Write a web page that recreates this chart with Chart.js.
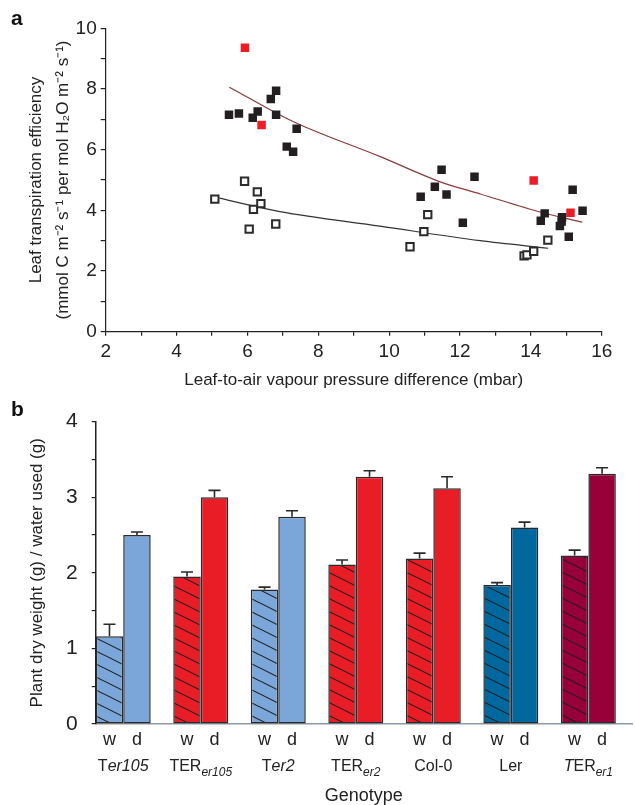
<!DOCTYPE html>
<html><head><meta charset="utf-8">
<script src="https://cdn.jsdelivr.net/npm/chart.js@4.4.1/dist/chart.umd.min.js"></script>
<style>
html,body{margin:0;padding:0;background:#fff;}
#wrap{position:relative;width:635px;height:805px;overflow:hidden;}
#ca{position:absolute;left:0;top:0;}
#cb{position:absolute;left:0;top:395px;}
.lab{position:absolute;font:bold 21px "Liberation Sans",Arial,sans-serif;color:#111;line-height:1;}
</style></head><body>
<div id="wrap">
<canvas id="ca" width="635" height="395"></canvas>
<canvas id="cb" width="635" height="410"></canvas>
<div class="lab" style="left:11px;top:7px">a</div>
<div class="lab" style="left:11px;top:398px">b</div>
</div>
<script>
// ---------- Panel a data ----------
const filledX = [5.48,5.76,6.15,6.29,6.66,6.81,6.81,7.11,7.29,7.39,10.89,11.29,11.48,11.62,12.08,12.41,14.28,14.39,14.82,14.87,14.88,15.07,15.18,15.46];
const filledY = [7.15,7.19,7.05,7.26,7.67,7.94,7.15,6.10,5.93,6.69,4.45,4.78,5.34,4.52,3.59,5.11,3.66,3.90,3.48,3.63,3.77,3.13,4.68,3.99];
const redX = [5.93,6.40,14.08,15.12];
const redY = [9.36,6.81,4.98,3.92];
const openX = [5.08,5.92,6.05,6.17,6.28,6.38,6.80,10.59,10.98,11.09,13.81,13.89,14.08,14.48];
const openY = [4.37,4.96,3.38,4.03,4.61,4.22,3.55,2.80,3.30,3.86,2.50,2.53,2.65,3.02];
const upperFitX = [5.49,7.30,9.75,11.44,12.57,14.34,15.45];
const upperFitY = [8.06,6.92,5.77,4.94,4.54,3.92,3.61];
const lowerFitX = [5.21,6.92,9.74,12.57,14.49];
const lowerFitY = [4.40,3.96,3.48,3.00,2.75];
const xTicksA = [2,4,6,8,10,12,14,16];
const yTicksA = [0,2,4,6,8,10];

// ---------- Panel b data ----------
const genotypes = ['T<i>er105</i>','TER<sub>er105</sub>','T<i>er2</i>','TER<sub>er2</sub>','Col-0','Ler','<i>T</i>ER<sub>er1</sub>'];
const wetValues = [1.16,1.95,1.78,2.11,2.19,1.84,2.23];
const wetErrors = [0.16,0.06,0.03,0.06,0.07,0.03,0.07];
const dryValues = [2.50,3.00,2.74,3.27,3.12,2.60,3.31];
const dryErrors = [0.04,0.09,0.08,0.08,0.15,0.07,0.08];
const genotypeColors = ['#7ba6d9','#e91d26','#7ba6d9','#e91d26','#e91d26','#00679f','#970039'];
const yTicksB = [0,1,2,3,4];

const FONT = '"Liberation Sans", Arial, Helvetica, sans-serif';
Chart.defaults.font.family = FONT;
Chart.defaults.color = '#222';

const pts = (xs, ys) => xs.map((x, i) => ({x, y: ys[i]}));

// ---------- Chart a ----------
new Chart(document.getElementById('ca'), {
  type: 'scatter',
  data: { datasets: [
    {label:'Fit (filled)', data: pts(upperFitX, upperFitY), showLine:true, borderColor:'#8a3b3b', borderWidth:1.2, pointRadius:0, cubicInterpolationMode:'monotone', order:5},
    {label:'Fit (open)', data: pts(lowerFitX, lowerFitY), showLine:true, borderColor:'#333', borderWidth:1.2, pointRadius:0, cubicInterpolationMode:'monotone', order:5},
    {label:'Filled', data: pts(filledX, filledY), pointStyle:'rect', pointRadius:6, backgroundColor:'#231f20', borderWidth:0, order:1},
    {label:'Red', data: pts(redX, redY), pointStyle:'rect', pointRadius:6, backgroundColor:'#ee1c25', borderWidth:0, order:1},
    {label:'Open', data: pts(openX, openY), pointStyle:'rect', pointRadius:5.2, backgroundColor:'#fff', borderColor:'#2b2b2b', borderWidth:2, order:1}
  ]},
  options: {
    responsive:false, animation:false,
    layout:{padding:{top:28.3, right:33.3, left:0, bottom:0}},
    plugins:{legend:{display:false}, tooltip:{enabled:false}},
    scales:{
      x:{type:'linear', min:2, max:16,
        afterFit:s=>{s.height = 395-331.7;},
        ticks:{stepSize:1, autoSkip:false, padding:5, font:{size:19}, color:'#222', maxRotation:0,
          callback:v=> xTicksA.includes(v) ? String(v) : ''},
        grid:{drawOnChartArea:false, tickLength:4, color:'#222', lineWidth:1.2},
        border:{color:'#222', width:1.2},
        title:{display:true, text:'Leaf-to-air vapour pressure difference (mbar)', font:{size:17}, color:'#222', padding:{top:0,bottom:4}}
      },
      y:{min:0, max:10,
        afterFit:s=>{s.width = 105.7;},
        ticks:{stepSize:1, autoSkip:false, padding:4, font:{size:19}, color:'#222',
          callback:v=> yTicksA.includes(v) ? String(v) : ''},
        grid:{drawOnChartArea:false, tickLength:5, color:'#222', lineWidth:1.2},
        border:{color:'#222', width:1.2},
        title:{display:true, text:['Leaf transpiration efficiency','(mmol C m\u207B\u00B2 s\u207B\u00B9 per mol H\u2082O m\u207B\u00B2 s\u207B\u00B9)'], font:{size:17, lineHeight:1.6}, color:'#222', padding:{top:23,bottom:0}}
      }
    }
  }
});

// ---------- Chart b ----------
function hatch(color){
  const c = document.createElement('canvas'); c.width = 26; c.height = 13;
  const g = c.getContext('2d');
  g.fillStyle = color; g.fillRect(0,0,26,13);
  g.strokeStyle = '#1e1e1e'; g.lineWidth = 1.1;
  for (const dy of [-13,0,13]) { g.beginPath(); g.moveTo(-26, dy-13); g.lineTo(52, dy+26); g.stroke(); }
  return g.createPattern(c, 'repeat');
}

const errorBars = {
  id:'errorBars',
  afterDatasetsDraw(chart){
    const ctx = chart.ctx, ys = chart.scales.y;
    chart.data.datasets.forEach((ds, di) => {
      const meta = chart.getDatasetMeta(di);
      meta.data.forEach((bar, i) => {
        const top = ys.getPixelForValue(ds.data[i].y + ds.errors[i]);
        ctx.save();
        ctx.strokeStyle = '#2a2a2a'; ctx.lineWidth = 1.6;
        ctx.beginPath();
        ctx.moveTo(bar.x, bar.y); ctx.lineTo(bar.x, top);
        ctx.moveTo(bar.x-6, top); ctx.lineTo(bar.x+6, top);
        ctx.stroke(); ctx.restore();
      });
    });
  }
};

function drawRich(ctx, markup, cx, y, size){
  const re = /<(i|sub)>(.*?)<\/\1>|([^<]+)/g; const segs = []; let m;
  while ((m = re.exec(markup))) {
    if (m[3]) segs.push({t:m[3], font:`${size}px ${FONT}`, dy:0});
    else if (m[1] === 'i') segs.push({t:m[2], font:`italic ${size}px ${FONT}`, dy:0});
    else segs.push({t:m[2], font:`italic ${Math.round(size*0.78)}px ${FONT}`, dy:size*0.38});
  }
  let total = 0;
  segs.forEach(s => { ctx.font = s.font; s.w = ctx.measureText(s.t).width; total += s.w; });
  let x = cx - total/2;
  segs.forEach(s => { ctx.font = s.font; ctx.fillText(s.t, x, y + s.dy); x += s.w; });
}

const categoryLabels = {
  id:'categoryLabels',
  afterDraw(chart){
    const ctx = chart.ctx, xs = chart.scales.x;
    const meta0 = chart.getDatasetMeta(0), meta1 = chart.getDatasetMeta(1);
    ctx.save();
    ctx.fillStyle = '#222'; ctx.textBaseline = 'middle';
    genotypes.forEach((g, i) => {
      ctx.textAlign = 'center';
      ctx.font = `18px ${FONT}`;
      ctx.fillText('w', meta0.data[i].x, 345);
      ctx.fillText('d', meta1.data[i].x, 345);
      ctx.textAlign = 'left';
      drawRich(ctx, g, xs.getPixelForValue(i), 372, 16);
    });
    ctx.restore();
  }
};

new Chart(document.getElementById('cb'), {
  type:'bar',
  data:{ datasets:[
    {label:'w', data: wetValues.map((y,i)=>({x:i, y})), errors: wetErrors,
      backgroundColor: genotypeColors.map(hatch), borderColor:'#2a2a2a', borderWidth:1.5, borderSkipped:false,
      categoryPercentage:0.709, barPercentage:1},
    {label:'d', data: dryValues.map((y,i)=>({x:i, y})), errors: dryErrors,
      backgroundColor: genotypeColors, borderColor:'#2a2a2a', borderWidth:1.5, borderSkipped:false,
      categoryPercentage:0.709, barPercentage:1}
  ]},
  options:{
    responsive:false, animation:false,
    layout:{padding:{top:21.7, right:3, left:0, bottom:0}},
    plugins:{legend:{display:false}, tooltip:{enabled:false}},
    scales:{
      x:{type:'linear', min:-0.355, max:6.563, offset:false,
        afterFit:s=>{s.height = 81;},
        ticks:{display:false},
        grid:{display:true, drawOnChartArea:false, drawTicks:false},
        border:{color:'#8c98a6', width:1.5},
        title:{display:true, text:'Genotype', font:{size:18, lineHeight:1}, color:'#222', padding:{top:0,bottom:0}}
      },
      y:{min:0, max:4,
        afterFit:s=>{s.width = 95.7;},
        ticks:{stepSize:0.5, autoSkip:false, padding:14, font:{size:21}, color:'#222',
          callback:v=> yTicksB.includes(v) ? String(v) : ''},
        grid:{drawOnChartArea:false, tickLength:4, color:'#222', lineWidth:1.2},
        border:{color:'#222', width:1.5},
        title:{display:true, text:'Plant dry weight (g) / water used (g)', font:{size:17}, color:'#222', padding:{top:27,bottom:0}}
      }
    }
  },
  plugins:[errorBars, categoryLabels]
});
</script>
</body></html>
